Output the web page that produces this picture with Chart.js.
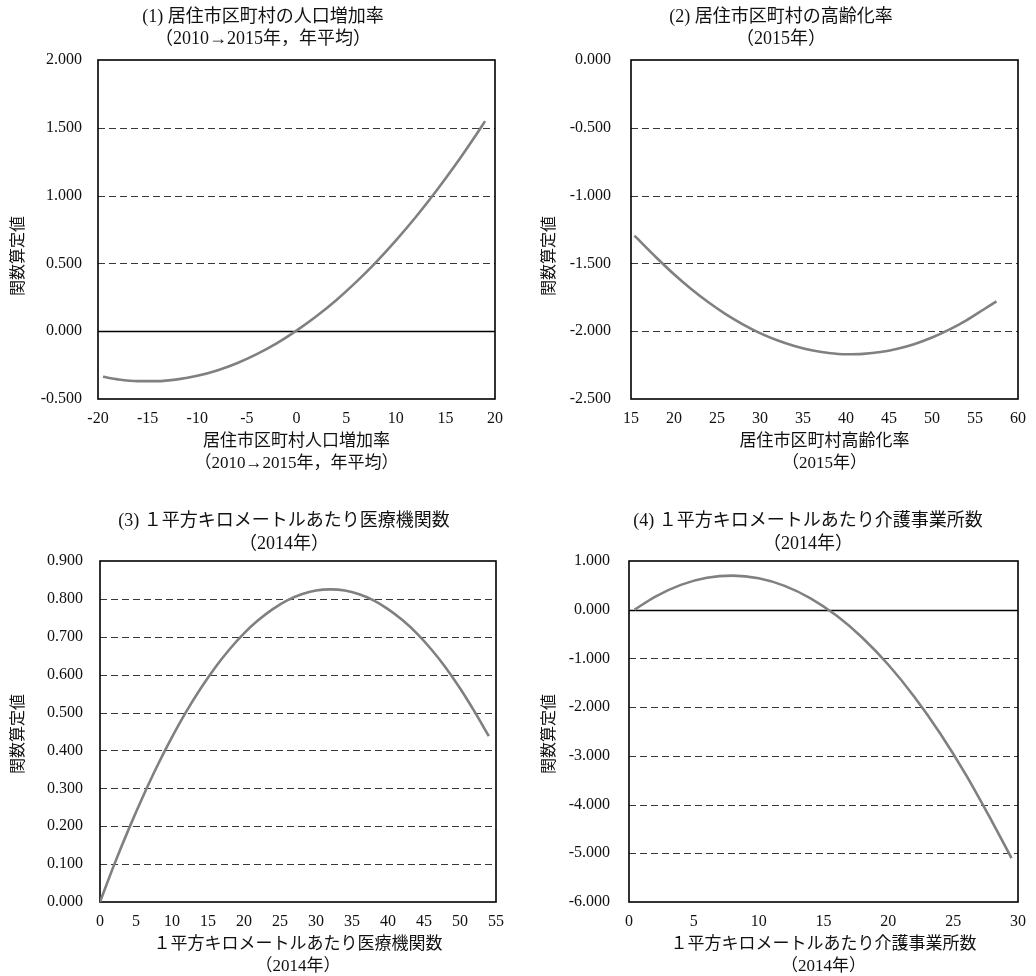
<!DOCTYPE html>
<html>
<head>
<meta charset="utf-8">
<script src="https://cdn.jsdelivr.net/npm/chart.js@4.4.1/dist/chart.umd.min.js"></script>
<style>
  html, body { margin: 0; padding: 0; background: #fff; width: 1036px; height: 976px; overflow: hidden; }
  body { position: relative; }
  canvas { position: absolute; }
</style>
</head>
<body>
<canvas id="p1"></canvas>
<canvas id="p2"></canvas>
<canvas id="p3"></canvas>
<canvas id="p4"></canvas>
<script>
// (1) population growth rate of the municipality of residence
const growthRate  = [-19.5, -18, -16, -14, -12, -10, -8, -6, -4, -2, 0, 2, 4, 6, 8, 10, 12, 14, 16, 18, 19];
const growthScore = [-0.336, -0.355, -0.368, -0.368, -0.355, -0.329, -0.289, -0.236, -0.169, -0.090, 0.004,
                     0.110, 0.229, 0.362, 0.508, 0.668, 0.840, 1.026, 1.225, 1.438, 1.549];
const growthXTicks = [-20, 20, 5];
const growthYTicks = [-0.5, 2.0, 0.5];

// (2) ageing rate of the municipality of residence
const agingRate  = [15.4, 18, 20, 22, 24, 26, 28, 30, 32, 34, 36, 38, 40, 42, 44, 46, 48, 50, 52, 54, 56, 57.5];
const agingScore = [-1.295, -1.460, -1.580, -1.689, -1.787, -1.874, -1.949, -2.014, -2.067, -2.109, -2.141,
                    -2.161, -2.170, -2.167, -2.154, -2.129, -2.094, -2.047, -1.989, -1.920, -1.840, -1.780];
const agingXTicks = [15, 60, 5];
const agingYTicks = [-2.5, 0, 0.5];

// (3) medical institutions per square kilometre
const clinicDensity = [0, 2, 4, 6, 8, 10, 12, 14, 16, 18, 20, 22, 24, 26, 28, 30, 32, 34, 36, 38, 40, 42, 44, 46, 48, 50, 52, 54];
const clinicScore   = [0.000, 0.100, 0.193, 0.280, 0.361, 0.435, 0.503, 0.564, 0.619, 0.667, 0.709, 0.744, 0.773, 0.796,
                       0.812, 0.822, 0.825, 0.822, 0.812, 0.796, 0.773, 0.744, 0.709, 0.667, 0.619, 0.564, 0.503, 0.438];
const clinicXTicks = [0, 55, 5];
const clinicYTicks = [0, 0.9, 0.1];

// (4) care service offices per square kilometre
const careDensity = [0.43, 2, 4, 6, 8, 10, 12, 14, 16, 18, 20, 22, 24, 26, 28, 29.5];
const careScore   = [0.000, 0.265, 0.510, 0.655, 0.700, 0.645, 0.490, 0.235, -0.120, -0.575, -1.130, -1.785,
                     -2.540, -3.395, -4.350, -5.100];
const careXTicks = [0, 30, 5];
const careYTicks = [-6, 1, 1];

const yAxisTitle = '関数算定値';

const SERIF = '"Liberation Serif", "Noto Sans CJK JP", serif';
const INK = '#111';

// Dashed horizontal gridlines, solid zero line and the plot frame
const framePlugin = {
  id: 'plotFrame',
  beforeDatasetsDraw(chart) {
    const { ctx, chartArea: a, scales: { y } } = chart;
    ctx.save();
    ctx.lineWidth = 1;
    ctx.strokeStyle = '#383838';
    ctx.setLineDash([7, 4]);
    y.ticks.forEach(t => {
      if (Math.abs(t.value) < 1e-9) return;
      const py = Math.round(y.getPixelForValue(t.value)) + 0.5;
      if (py <= a.top + 1 || py >= a.bottom - 1) return;
      ctx.beginPath();
      ctx.moveTo(a.left, py);
      ctx.lineTo(a.right, py);
      ctx.stroke();
    });
    ctx.setLineDash([]);
    if (y.min < 0 && y.max > 0) {
      const pz = Math.round(y.getPixelForValue(0)) + 0.5;
      ctx.strokeStyle = '#000';
      ctx.lineWidth = 1.6;
      ctx.beginPath();
      ctx.moveTo(a.left, pz);
      ctx.lineTo(a.right, pz);
      ctx.stroke();
    }
    ctx.strokeStyle = '#000';
    ctx.lineWidth = 1.6;
    ctx.strokeRect(a.left, a.top, a.right - a.left, a.bottom - a.top);
    ctx.restore();
  }
};

// Two-line panel heading and the vertical value-axis caption, placed in canvas coordinates
const headingPlugin = {
  id: 'heading',
  afterDraw(chart, args, opts) {
    const { ctx } = chart;
    ctx.save();
    ctx.fillStyle = INK;
    ctx.font = `${opts.size}px ${SERIF}`;
    ctx.textAlign = 'center';
    ctx.textBaseline = 'middle';
    opts.lines.forEach((s, i) => ctx.fillText(s, opts.cx, opts.y[i]));
    ctx.font = `${opts.axisSize}px ${SERIF}`;
    ctx.translate(opts.axisX, opts.axisY);
    ctx.rotate(-Math.PI / 2);
    ctx.fillText(yAxisTitle, 0, 0);
    ctx.restore();
  }
};

function makePanel(id, box, xs, ys, xt, yt, heading, xTitle, layout) {
  const el = document.getElementById(id);
  el.width = box.w; el.height = box.h;
  el.style.left = box.x + 'px'; el.style.top = box.y + 'px';
  return new Chart(el, {
    type: 'scatter',
    data: {
      datasets: [{
        data: xs.map((x, i) => ({ x, y: ys[i] })),
        showLine: true,
        borderColor: '#808080',
        borderWidth: 2.6,
        pointRadius: 0,
        cubicInterpolationMode: 'monotone',
        fill: false
      }]
    },
    options: {
      responsive: false,
      animation: false,
      devicePixelRatio: 1,
      layout: { padding: { top: layout.top, right: layout.right, bottom: layout.bottom, left: 0 } },
      plugins: {
        legend: { display: false },
        tooltip: { enabled: false },
        heading: heading
      },
      scales: {
        x: {
          type: 'linear',
          min: xt[0], max: xt[1],
          grid: { display: false, drawTicks: false },
          border: { display: false },
          ticks: { stepSize: xt[2], padding: 10, color: INK, font: { family: SERIF, size: 16 }, maxRotation: 0,
                   callback: v => String(v) },
          title: { display: true, text: xTitle, color: INK, font: { family: SERIF, size: 17, lineHeight: '22px' },
                   padding: { top: 0, bottom: 0 } },
          afterFit: s => { s.height = layout.xh; }
        },
        y: {
          type: 'linear',
          min: yt[0], max: yt[1],
          grid: { display: false, drawTicks: false },
          border: { display: false },
          ticks: { stepSize: yt[2], padding: layout.yPad, color: INK, font: { family: SERIF, size: 16 },
                   callback: v => Number(v).toFixed(3) },
          afterFit: s => { s.width = layout.left; }
        }
      }
    },
    plugins: [framePlugin, headingPlugin]
  });
}

makePanel('p1', { x: 0, y: 0, w: 518, h: 490 }, growthRate, growthScore, growthXTicks, growthYTicks,
  { lines: ['(1) 居住市区町村の人口増加率', '（2010→2015年，年平均）'], cx: 263, y: [17, 39], size: 18,
    axisX: 19, axisY: 256, axisSize: 16 },
  ['居住市区町村人口増加率', '（2010→2015年，年平均）'],
  { top: 60, right: 23, bottom: 15, left: 98, xh: 76, yPad: 16 });

makePanel('p2', { x: 518, y: 0, w: 518, h: 490 }, agingRate, agingScore, agingXTicks, agingYTicks,
  { lines: ['(2) 居住市区町村の高齢化率', '（2015年）'], cx: 263, y: [17, 39], size: 18,
    axisX: 32, axisY: 256, axisSize: 16 },
  ['居住市区町村高齢化率', '（2015年）'],
  { top: 60, right: 9, bottom: 15, left: 113, xh: 76, yPad: 20 });

makePanel('p3', { x: 0, y: 480, w: 518, h: 502 }, clinicDensity, clinicScore, clinicXTicks, clinicYTicks,
  { lines: ['(3) １平方キロメートルあたり医療機関数', '（2014年）'], cx: 284, y: [41, 64], size: 18,
    axisX: 19, axisY: 254, axisSize: 16 },
  ['１平方キロメートルあたり医療機関数', '（2014年）'],
  { top: 81, right: 22, bottom: 4, left: 100, xh: 76, yPad: 17 });

makePanel('p4', { x: 518, y: 480, w: 518, h: 502 }, careDensity, careScore, careXTicks, careYTicks,
  { lines: ['(4) １平方キロメートルあたり介護事業所数', '（2014年）'], cx: 290, y: [41, 64], size: 18,
    axisX: 32, axisY: 254, axisSize: 16 },
  ['１平方キロメートルあたり介護事業所数', '（2014年）'],
  { top: 81, right: 11, bottom: 4, left: 111, xh: 76, yPad: 19 });
</script>
</body>
</html>
